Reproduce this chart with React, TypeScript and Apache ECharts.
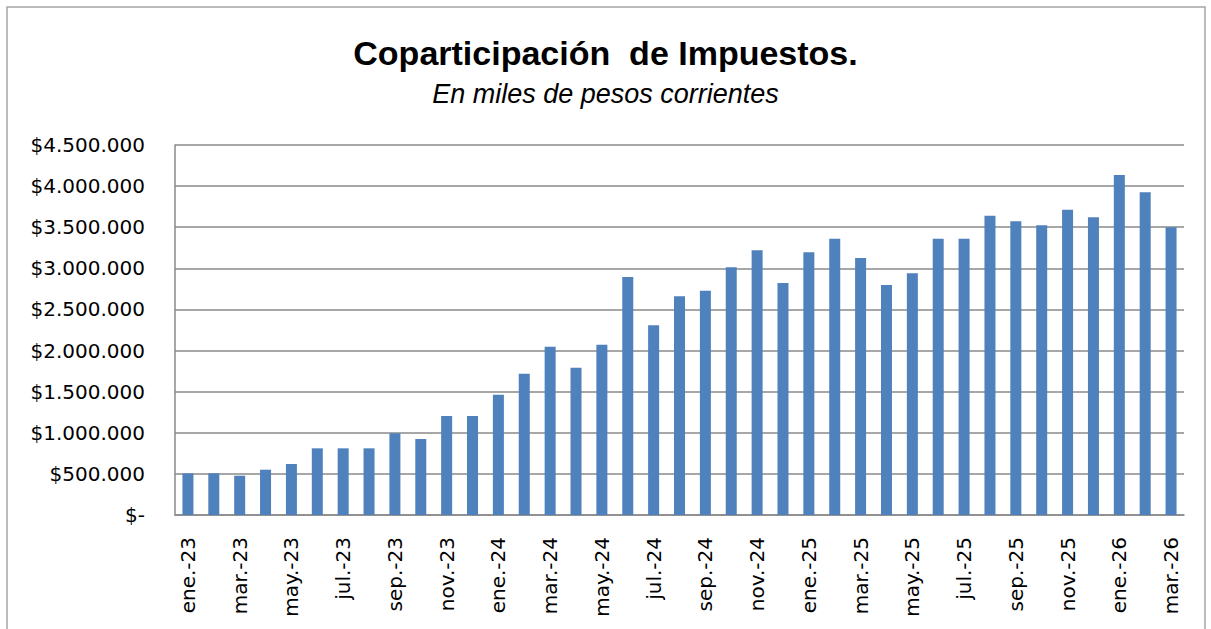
import React, { useEffect, useRef } from "react";
import * as echarts from "echarts";

const months = ["ene.", "feb.", "mar.", "abr.", "may.", "jun.", "jul.", "ago.", "sep.", "oct.", "nov.", "dic."];
const years = ["23", "24", "25", "26"];
const categories: string[] = [];
years.forEach((y, yi) => {
  months.forEach((m, mi) => {
    if (yi < 3 || mi < 3) categories.push(`${m}-${y}`);
  });
});

const values = [
  507000, 507000, 478000, 551000, 620000, 811000, 811000, 811000, 994000, 924000, 1204000, 1204000,
  1463000, 1719000, 2047000, 1792000, 2071000, 2895000, 2307000, 2660000, 2728000, 3012000, 3219000, 2822000,
  3195000, 3361000, 3126000, 2797000, 2939000, 3361000, 3361000, 3640000, 3572000, 3523000, 3713000, 3620000,
  4135000, 3925000, 3499000,
];

const yTicks = { min: 0, max: 4500000, interval: 500000 };

const titleText = "Coparticipación  de Impuestos.";
const subtitleText = "En miles de pesos corrientes";

function fmt(v: number): string {
  if (v === 0) return "$-";
  return "$" + String(Math.round(v)).replace(/\B(?=(\d{3})+(?!\d))/g, ".");
}

export default function App() {
  const ref = useRef<HTMLDivElement>(null);
  useEffect(() => {
    if (!ref.current) return;
    const chart = echarts.init(ref.current, undefined, { renderer: "svg" });
    chart.setOption({
      animation: false,
      backgroundColor: "#ffffff",
      graphic: [
        {
          type: "rect",
          shape: { x: 7, y: 7, width: 1198, height: 640 },
          style: { fill: "none", stroke: "#a6a6a6", lineWidth: 1.5 },
          silent: true,
        },
      ],
      title: [
        {
          text: titleText,
          left: "center",
          top: 31,
          textStyle: {
            fontFamily: "Liberation Sans",
            fontWeight: "bold",
            fontSize: 34,
            color: "#000000",
          },
        },
        {
          text: subtitleText,
          left: "center",
          top: 75,
          textStyle: {
            fontFamily: "Liberation Sans",
            fontStyle: "italic",
            fontWeight: "normal",
            fontSize: 27,
            color: "#000000",
          },
        },
      ],
      grid: { left: 175, top: 145, width: 1009, height: 370, containLabel: false },
      xAxis: {
        type: "category",
        data: categories,
        axisLine: { show: true, lineStyle: { color: "#8a8a8a", width: 1.5 } },
        axisTick: { show: false },
        axisLabel: {
          interval: 1,
          rotate: 90,
          margin: 22,
          fontFamily: "DejaVu Sans",
          fontSize: 20,
          color: "#000000",
        },
      },
      yAxis: {
        type: "value",
        min: yTicks.min,
        max: yTicks.max,
        interval: yTicks.interval,
        axisLine: { show: true, lineStyle: { color: "#8a8a8a", width: 1.5 } },
        axisTick: { show: false },
        splitLine: { show: true, lineStyle: { color: "#8a8a8a", width: 1.5 } },
        axisLabel: {
          margin: 30,
          fontFamily: "DejaVu Sans",
          fontSize: 20,
          color: "#000000",
          formatter: (v: number) => fmt(v),
        },
      },
      series: [
        {
          type: "bar",
          data: values,
          barWidth: 11,
          itemStyle: { color: "#4F81BD" },
        },
      ],
    });
    return () => chart.dispose();
  }, []);
  return (
    <div
      ref={ref}
      style={{ position: "absolute", left: 0, top: 0, width: 1211, height: 629 }}
    />
  );
}
